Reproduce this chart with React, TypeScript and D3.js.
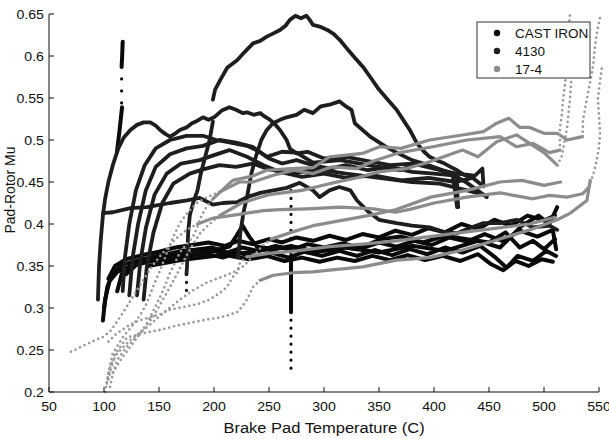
import React from 'react';
import * as d3 from 'd3';

type Pt = [number, number];

// axis ticks and legend
const xTicks = [50, 100, 150, 200, 250, 300, 350, 400, 450, 500, 550];
const yTicks = [0.2, 0.25, 0.3, 0.35, 0.4, 0.45, 0.5, 0.55, 0.6, 0.65];
const legendNames = ['CAST IRON', '4130', '17-4'];

// ---- CAST IRON (dense black band around 0.35-0.40) ----
const band1: Pt[] = [[104,0.335],[110,0.35],[120,0.358],[135,0.363],[150,0.367],[165,0.372],[180,0.375],[195,0.378],[210,0.374],[222,0.38],[235,0.376],[250,0.382],[262,0.378],[275,0.384],[290,0.38],[305,0.386],[320,0.381],[335,0.388],[350,0.384],[365,0.392],[380,0.387],[395,0.395],[410,0.39],[425,0.4],[440,0.394],[455,0.405],[470,0.398],[485,0.41],[500,0.404],[510,0.41]];
const band2: Pt[] = [[100,0.3],[103,0.325],[108,0.342],[118,0.352],[132,0.357],[148,0.362],[165,0.366],[182,0.369],[198,0.372],[212,0.366],[226,0.372],[240,0.368],[256,0.374],[270,0.369],[285,0.376],[300,0.372],[318,0.377],[334,0.371],[350,0.378],[366,0.373],[382,0.38],[398,0.375],[414,0.384],[430,0.379],[446,0.388],[462,0.38],[478,0.392],[494,0.385],[508,0.393],[511,0.37]];
const band3: Pt[] = [[99,0.285],[101,0.31],[105,0.332],[112,0.343],[125,0.35],[140,0.355],[158,0.358],[175,0.362],[192,0.365],[208,0.36],[222,0.366],[238,0.36],[252,0.366],[268,0.36],[282,0.367],[298,0.362],[314,0.368],[330,0.362],[346,0.369],[362,0.363],[378,0.37],[394,0.364],[410,0.372],[426,0.366],[442,0.374],[456,0.36],[466,0.348],[476,0.362],[490,0.356],[502,0.368],[511,0.362]];
const band4: Pt[] = [[112,0.32],[116,0.34],[124,0.35],[140,0.358],[160,0.362],[180,0.364],[200,0.368],[215,0.362],[232,0.358],[248,0.362],[264,0.356],[280,0.36],[296,0.355],[312,0.36],[328,0.356],[344,0.362],[360,0.357],[376,0.363],[392,0.357],[408,0.362],[424,0.356],[440,0.364],[452,0.352],[463,0.345],[474,0.356],[486,0.35],[498,0.358],[508,0.355]];
const band5: Pt[] = [[120,0.34],[130,0.352],[150,0.36],[170,0.368],[190,0.37],[205,0.37],[214,0.373],[220,0.385],[226,0.398],[232,0.385],[239,0.373],[255,0.37],[270,0.374],[290,0.368],[310,0.374],[330,0.37],[352,0.382],[370,0.385],[390,0.378],[410,0.386],[430,0.382],[450,0.378],[465,0.39],[478,0.372],[490,0.38],[500,0.37],[510,0.382]];
const band6: Pt[] = [[140,0.35],[170,0.357],[200,0.362],[230,0.366],[260,0.372],[290,0.366],[320,0.372],[350,0.366],[380,0.374],[410,0.368],[440,0.38],[460,0.372],[480,0.398],[495,0.41],[505,0.4],[512,0.42]];
const spike115Top: Pt[] = [[117,0.617],[116.5,0.6],[116,0.587]];
const spike115Bottom: Pt[] = [[116.4,0.539],[114,0.51],[111.8,0.486]];
const spike115Gap: Pt[] = [[116,0.587],[116,0.539]];
const spike270Top: Pt[] = [[270,0.44],[270,0.36]];
const spike270Mid: Pt[] = [[270,0.36],[270,0.295]];
const spike270Bottom: Pt[] = [[270,0.295],[270,0.224]];

// ---- 4130 (upper black curves) ----
const peakA: Pt[] = [[199,0.548],[201,0.56],[205.5,0.571],[212,0.586],[221,0.595],[228,0.605],[235.5,0.615],[242,0.618],[248,0.623],[254,0.627],[260,0.631],[265,0.636],[269,0.643],[274,0.648],[279,0.645],[284,0.648],[287,0.643],[290,0.637],[296,0.635],[303,0.631],[309,0.626],[314.5,0.619],[322,0.607],[328,0.598],[335.5,0.587],[342,0.575],[350,0.56],[358,0.548],[366,0.536],[372,0.524],[378,0.512],[384.5,0.496],[391,0.486],[396,0.48],[402,0.476],[408,0.473],[415,0.468],[421,0.464],[428,0.458],[435,0.455],[440,0.45],[445,0.445]];
const curveB: Pt[] = [[94.5,0.31],[95.5,0.35],[97,0.38],[99,0.41],[101,0.43],[104,0.45],[108,0.47],[113,0.49],[118,0.503],[124,0.512],[130,0.518],[136,0.521],[142,0.521],[147,0.517],[151,0.512],[156,0.507],[160,0.504],[165,0.508],[169,0.512],[175,0.515],[180,0.52],[185,0.523],[190,0.527],[195,0.524],[200,0.527],[207,0.535],[214,0.539],[220,0.536],[226,0.532],[230,0.533],[236,0.53],[242,0.532],[246,0.528],[251,0.524],[256,0.518],[260,0.512],[266,0.5],[269,0.49],[275,0.484],[285,0.486],[300,0.478],[320,0.48],[340,0.475],[360,0.47],[380,0.472],[400,0.466],[420,0.46],[435,0.458]];
const curveC: Pt[] = [[222,0.36],[224,0.39],[227,0.415],[230,0.432],[234,0.46],[238,0.48],[243,0.5],[248,0.512],[253.6,0.52],[260,0.524],[266,0.527],[275,0.53],[282,0.536],[290,0.532],[297,0.54],[305,0.542],[314,0.546],[320,0.54],[325,0.536],[328,0.52],[342,0.504],[355,0.493],[366,0.485],[380,0.476],[395,0.47],[410,0.462],[421,0.455],[421,0.44],[422,0.42]];
const curveD: Pt[] = [[99,0.413],[108,0.414],[124,0.419],[139,0.42],[160,0.425],[175.5,0.428],[187,0.431],[199,0.423],[208,0.425],[221,0.426],[230,0.432],[242,0.437],[254,0.44],[266,0.443],[278,0.449],[290,0.44],[296,0.432],[305,0.44],[314,0.444],[324,0.44],[330,0.428],[340,0.415],[350,0.405],[366,0.401],[380,0.398],[396,0.396],[410,0.39],[421,0.389],[432,0.395],[445,0.401],[460,0.401],[475,0.405],[490,0.396],[505,0.398],[512,0.393]];
const riseR1: Pt[] = [[117,0.32],[119,0.36],[123,0.4],[129,0.44],[137,0.47],[147,0.49],[160,0.5],[175,0.505],[190,0.505],[202,0.5],[215,0.497],[230,0.493],[240,0.487],[250,0.478],[262,0.472],[275,0.476],[290,0.47],[305,0.466],[320,0.47],[340,0.464],[360,0.468],[380,0.462],[400,0.46],[417,0.458],[419,0.44],[421,0.42]];
const riseR2: Pt[] = [[123,0.315],[126,0.36],[131,0.4],[138,0.44],[147,0.468],[160,0.483],[175,0.49],[190,0.493],[205,0.5],[220,0.497],[235,0.492],[248,0.48],[262,0.486],[275,0.485],[290,0.473],[315,0.476],[340,0.47],[369,0.464],[387,0.473],[399,0.468],[414.5,0.461],[430,0.449],[448,0.432]];
const riseR3: Pt[] = [[130,0.315],[133,0.355],[138,0.395],[146,0.435],[157,0.46],[170,0.472],[187,0.476],[200,0.482],[214,0.488],[230,0.48],[245,0.47],[260,0.462],[280,0.456],[300,0.46],[320,0.455],[345,0.458],[370,0.452],[395,0.455],[420,0.45],[435,0.455],[444,0.466],[445,0.445]];
const riseR4: Pt[] = [[136,0.31],[139,0.35],[145,0.39],[153,0.425],[163,0.448],[178,0.46],[190,0.465],[205,0.47],[220,0.468],[235,0.472],[250,0.465],[270,0.46],[295,0.465],[320,0.46],[350,0.455],[380,0.45],[405,0.448],[430,0.44],[445,0.435]];
const drop175: Pt[] = [[199,0.522],[196,0.5],[192,0.48],[188,0.46],[185,0.44],[181,0.425],[178,0.41],[176.5,0.39],[176,0.37],[175.5,0.35],[175,0.34]];
const drop175Tail: Pt[] = [[175,0.34],[175,0.32]];

// ---- 17-4 (gray): fast rise (sparse dots), plateau (dense), end rise (sparse dots) ----
const g1Rise: Pt[] = [[70,0.248],[78,0.253],[86,0.258],[94,0.263],[100,0.266],[106,0.273],[112,0.284],[119,0.298],[127,0.315],[136,0.334],[145,0.352],[155,0.368],[165,0.382],[175,0.393],[185,0.4]];
const g1Flat: Pt[] = [[185,0.4],[199,0.407],[215,0.41],[230,0.413],[245,0.416],[260,0.417],[285,0.418],[315,0.42],[345,0.418],[365,0.414],[380,0.418],[400,0.425],[430,0.432],[460,0.437],[490,0.43],[505,0.434],[521,0.432],[535,0.436],[541,0.444]];
const g1End: Pt[] = [[541,0.444],[545,0.46],[548,0.476],[550,0.492],[551,0.508],[550,0.528],[549,0.549],[550,0.56],[551,0.571],[552.7,0.587]];
const g2Rise: Pt[] = [[101,0.2],[103,0.215],[106,0.232],[112,0.246],[124,0.262],[139,0.277],[154,0.294],[169,0.31],[181,0.321],[193,0.33],[205,0.336],[217,0.342],[227,0.35],[236,0.362],[244,0.374],[252,0.382]];
const g2Flat: Pt[] = [[252,0.382],[270,0.39],[290,0.398],[315,0.404],[340,0.41],[365,0.417],[397,0.432],[430,0.44],[460,0.45],[480,0.452],[500,0.446],[515,0.45]];
const g3Rise: Pt[] = [[108,0.223],[116,0.24],[124,0.254],[132,0.268],[139,0.282],[145,0.297],[151,0.313],[156,0.328],[160,0.342],[165,0.355],[169,0.366],[175,0.376],[181,0.385],[185,0.397],[188,0.408],[193,0.42],[199,0.43]];
const g3Flat: Pt[] = [[199,0.43],[217,0.452],[235,0.457],[248,0.464],[270,0.466],[290,0.467],[305,0.48],[335,0.484],[350.5,0.492],[370,0.49],[396,0.5],[426,0.506],[445,0.51],[457,0.52],[468,0.526],[478,0.515],[487,0.515],[500,0.508],[512,0.508],[521,0.5],[535,0.504]];
const g3End: Pt[] = [[535,0.504],[535.5,0.524],[539,0.549],[541.8,0.568],[544.5,0.587],[546,0.607],[548,0.627],[551,0.646]];
const g4Rise: Pt[] = [[105.5,0.206],[108,0.222],[111.8,0.238],[121,0.254],[132.7,0.27],[144.5,0.289],[153.6,0.31],[160,0.325],[167,0.342],[174,0.36],[181,0.376],[188,0.39],[196,0.4],[205,0.41]];
const g4Flat: Pt[] = [[205,0.41],[225,0.425],[250,0.435],[280,0.44],[305,0.448],[330,0.455],[350,0.462],[375,0.466],[396,0.474],[426,0.488],[440,0.48],[457,0.498],[475,0.506],[487,0.496],[500,0.485],[512,0.47]];
const g4End: Pt[] = [[512,0.47],[516,0.48],[519,0.5],[521,0.515],[522.5,0.535],[523.6,0.548],[525,0.575]];
const g5Rise: Pt[] = [[104,0.26],[112,0.27],[121,0.278],[130,0.284],[139,0.288],[150,0.292],[160,0.298],[175.5,0.302],[186,0.305],[196,0.31],[205.5,0.318],[211.8,0.325],[217,0.337],[221,0.342],[223.6,0.354],[230,0.361]];
const g5Flat: Pt[] = [[230,0.361],[250,0.365],[275,0.368],[305,0.373],[335,0.376],[366,0.38],[396,0.385],[426,0.39],[457,0.395],[487,0.4],[510,0.408]];
const g6Rise: Pt[] = [[104,0.215],[110,0.245],[121,0.265],[136,0.27],[151,0.274],[166,0.279],[181,0.283],[192,0.286],[202.7,0.288],[212,0.291],[221,0.295],[226,0.302],[230,0.31],[235.5,0.325],[242,0.333]];
const g6Flat: Pt[] = [[242,0.333],[254,0.339],[272,0.342],[290,0.343],[305,0.345],[335,0.349],[366,0.357],[396,0.36],[426,0.369],[457,0.381],[487,0.393],[512,0.405],[524,0.413],[539,0.428],[542,0.452]];
const g7Rise: Pt[] = [[102.7,0.21],[104,0.223],[108,0.246],[117,0.265],[124,0.276],[130,0.286],[135,0.296],[139,0.306],[144.5,0.325],[151,0.345],[157,0.365],[163,0.385],[169,0.401],[175.5,0.413],[184.5,0.425],[193.6,0.432],[205,0.438]];
const g7Flat: Pt[] = [[205,0.438],[223,0.45],[235.5,0.45],[254,0.458],[273,0.464],[290,0.46],[307,0.468],[330,0.466],[345,0.475],[369,0.485],[399,0.492],[430,0.5],[460,0.504],[475,0.492],[490,0.496],[505,0.485],[514.5,0.488]];
const g7End: Pt[] = [[514.5,0.488],[514.5,0.515],[516,0.527],[517,0.544],[519,0.565],[520.9,0.587],[521.8,0.607],[522,0.627],[523.6,0.649]];

const castIronLines = [band1, band2, band3, band4, band5, band6, spike115Top, spike115Bottom, spike270Mid];
const castIronDotted = [spike115Gap, spike270Top, spike270Bottom, drop175Tail];
const steel4130Lines = [peakA, curveB, curveC, curveD, riseR1, riseR2, riseR3, riseR4, drop175];
const grayDotted = [g1Rise, g1End, g2Rise, g3Rise, g3End, g4Rise, g4End, g5Rise, g6Rise, g7Rise, g7End];
const grayLines = [g1Flat, g2Flat, g3Flat, g4Flat, g5Flat, g6Flat, g7Flat];

const W = 609;
const H = 439;
const font = '"Liberation Sans", Arial, Helvetica, sans-serif';

export default function App() {
  const x = d3.scaleLinear().domain([50, 550]).range([49, 599]);
  const y = d3.scaleLinear().domain([0.2, 0.65]).range([392, 14]);
  const line = d3.line<Pt>().x(d => x(d[0])).y(d => y(d[1]));

  const colors = ['#0a0a0a', '#1e1e1e', '#8c8c8c'];

  return (
    <svg width={W} height={H} style={{ position: 'absolute', left: 0, top: 0, background: '#fff' }}>
      {/* cast iron */}
      <g fill="none" stroke={colors[0]} strokeLinecap="round" strokeLinejoin="round">
        {castIronLines.map((d, i) => <path key={i} d={line(d) || ''} strokeWidth={4} />)}
        {castIronDotted.map((d, i) => <path key={'d' + i} d={line(d) || ''} strokeWidth={3.2} strokeDasharray={i === 0 ? '0 12' : '0 8'} />)}
      </g>
      {/* 4130 */}
      <g fill="none" stroke={colors[1]} strokeLinecap="round" strokeLinejoin="round">
        {steel4130Lines.map((d, i) => <path key={i} d={line(d) || ''} strokeWidth={3.8} />)}
      </g>
      {/* 17-4 */}
      <g fill="none" stroke={colors[2]} strokeLinecap="round" strokeLinejoin="round">
        {grayLines.map((d, i) => <path key={i} d={line(d) || ''} strokeWidth={3.2} />)}
        {grayDotted.map((d, i) => <path key={'d' + i} d={line(d) || ''} strokeWidth={2.7} stroke="#999" strokeDasharray="0 5" />)}
      </g>

      {/* axes */}
      <g stroke="#111" strokeWidth={1} fill="none">
        <line x1={49} x2={49} y1={y(0.65)} y2={y(0.2)} />
        <line x1={49} x2={x(550)} y1={392} y2={392} />
        {xTicks.map(t => <line key={t} x1={x(t)} x2={x(t)} y1={392} y2={387} />)}
        {yTicks.map(t => <line key={t} x1={49} x2={54} y1={y(t)} y2={y(t)} />)}
      </g>
      <g fontFamily={font} fontSize={13} fill="#111">
        {xTicks.map(t => (
          <text key={t} transform={`translate(${x(t)},411) scale(1.09,1)`} textAnchor="middle">{t}</text>
        ))}
        {yTicks.map(t => (
          <text key={t} transform={`translate(44,${y(t) + 4.6}) scale(1.09,1)`} textAnchor="end">{d3.format('~g')(t)}</text>
        ))}
      </g>
      <text transform="translate(324,433) scale(1.1,1)" textAnchor="middle" fontFamily={font} fontSize={15} fill="#111">
        Brake Pad Temperature (C)
      </text>
      <text transform="translate(15,190) scale(1.1,1) rotate(-90)" textAnchor="middle" fontFamily={font} fontSize={14} fill="#111">
        Pad-Rotor Mu
      </text>

      {/* legend */}
      <g>
        <rect x={477} y={22} width={113} height={56} fill="#fff" stroke="#333" strokeWidth={1} />
        {legendNames.map((n, i) => (
          <g key={n}>
            <circle cx={497} cy={33 + i * 18} r={3.2} fill={colors[i]} />
            <text transform={`translate(515,${33 + i * 18 + 4.5}) scale(1.08,1)`} fontFamily={font} fontSize={12.5} fill="#111">{n}</text>
          </g>
        ))}
      </g>
    </svg>
  );
}
